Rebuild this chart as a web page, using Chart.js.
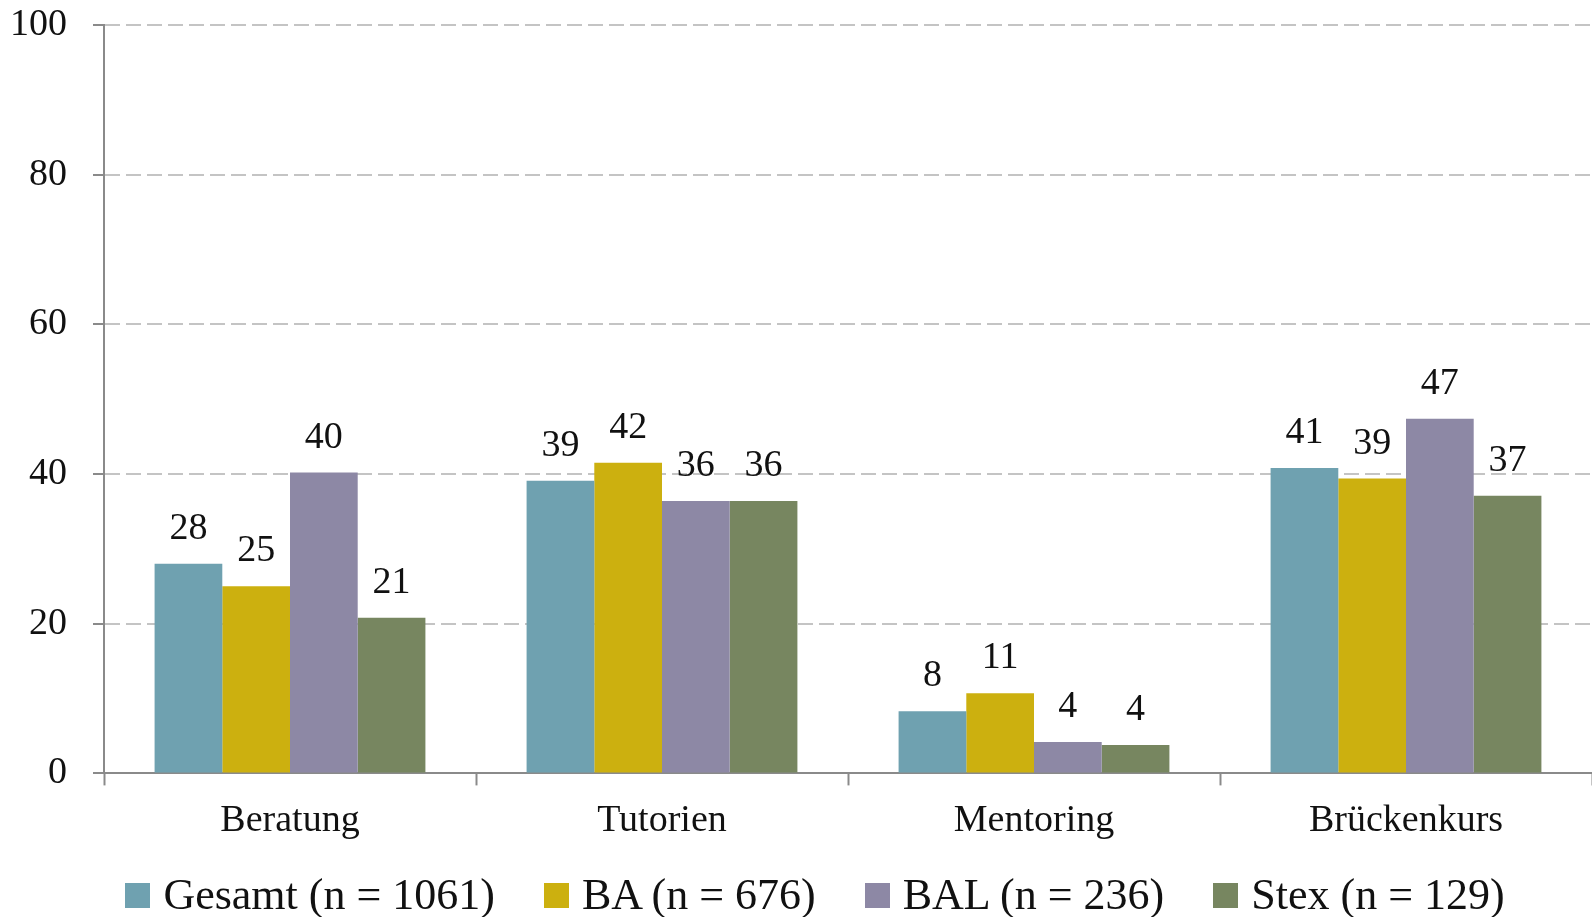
<!DOCTYPE html>
<html lang="de">
<head>
<meta charset="utf-8">
<title>Angebote</title>
<script src="https://cdn.jsdelivr.net/npm/chart.js@4"></script>
<style>
  html, body { margin: 0; padding: 0; background: #fff; }
  #wrap { width: 1592px; height: 917px; position: relative; }
  #legende {
    position: absolute; left: 38px; right: 0; top: 873px;
    display: flex; justify-content: center; gap: 49px;
    font-family: 'Liberation Serif', 'DejaVu Serif', serif;
    font-size: 44px; line-height: 44px; color: #111;
  }
  #legende .item { display: flex; align-items: center; white-space: nowrap; }
  #legende .box { width: 25px; height: 25px; margin-right: 13px; }
</style>
</head>
<body>
<div id="wrap">
  <canvas id="grafico"></canvas>
  <div id="legende"></div>
</div>
<script>
const kategorien = ["Beratung", "Tutorien", "Mentoring", "Brückenkurs"];
const gesamt = [28.0, 39.1, 8.3, 40.8];
const ba = [25.0, 41.5, 10.7, 39.4];
const bal = [40.2, 36.4, 4.2, 47.4];
const stex = [20.8, 36.4, 3.8, 37.1];
const yTicks = [0, 20, 40, 60, 80, 100];

const serif = "'Liberation Serif', 'DejaVu Serif', serif";
const grau = "#8a8a8a";

// Werte über den Balken
const wertLabels = {
  id: "wertLabels",
  afterDatasetsDraw(chart) {
    const ctx = chart.ctx;
    ctx.save();
    ctx.font = "38px " + serif;
    ctx.fillStyle = "#111";
    ctx.textAlign = "center";
    ctx.textBaseline = "alphabetic";
    chart.data.datasets.forEach((ds, i) => {
      chart.getDatasetMeta(i).data.forEach((bar, j) => {
        ctx.fillText(Math.round(ds.data[j]), bar.x, bar.y - 25);
      });
    });
    ctx.restore();
  }
};

const chart = new Chart(document.getElementById("grafico"), {
  type: "bar",
  data: {
    labels: kategorien,
    datasets: [
      { label: "Gesamt (n = 1061)", data: gesamt, backgroundColor: "#6fa1b0" },
      { label: "BA (n = 676)", data: ba, backgroundColor: "#ccb00f" },
      { label: "BAL (n = 236)", data: bal, backgroundColor: "#8d88a5" },
      { label: "Stex (n = 129)", data: stex, backgroundColor: "#778660" }
    ]
  },
  options: {
    responsive: true,
    maintainAspectRatio: false,
    animation: false,
    layout: { padding: { left: 0, right: 0, top: 25, bottom: 60 } },
    datasets: {
      bar: { categoryPercentage: 0.728, barPercentage: 1.0, borderWidth: 0 }
    },
    scales: {
      x: {
        grid: {
          offset: true,
          drawOnChartArea: false,
          drawTicks: true,
          tickLength: 12,
          tickWidth: 2,
          tickColor: grau
        },
        border: { display: true, color: grau, width: 2 },
        ticks: {
          font: { family: serif, size: 38 },
          color: "#111",
          padding: 13
        }
      },
      y: {
        min: 0,
        max: 100,
        afterFit(axis) {
          axis.width = 104;
          axis.paddingTop = 0;
          axis.paddingBottom = 0;
        },
        afterBuildTicks(axis) {
          axis.ticks = yTicks.map(v => ({ value: v }));
        },
        grid: {
          color: "#c4c4c4",
          lineWidth: 2,
          tickLength: 11,
          tickWidth: 2,
          tickColor: grau,
          tickBorderDash: [1, 0]
        },
        border: { display: true, color: grau, width: 2, dash: [15, 6] },
        ticks: {
          font: { family: serif, size: 38 },
          color: "#111",
          padding: 26
        }
      }
    },
    plugins: {
      legend: { display: false },
      tooltip: { enabled: false }
    }
  },
  plugins: [wertLabels]
});

// Legende unter dem Diagramm
const legende = document.getElementById("legende");
chart.data.datasets.forEach(ds => {
  const item = document.createElement("div");
  item.className = "item";
  const box = document.createElement("span");
  box.className = "box";
  box.style.background = ds.backgroundColor;
  const text = document.createElement("span");
  text.textContent = ds.label;
  item.appendChild(box);
  item.appendChild(text);
  legende.appendChild(item);
});
</script>
</body>
</html>
